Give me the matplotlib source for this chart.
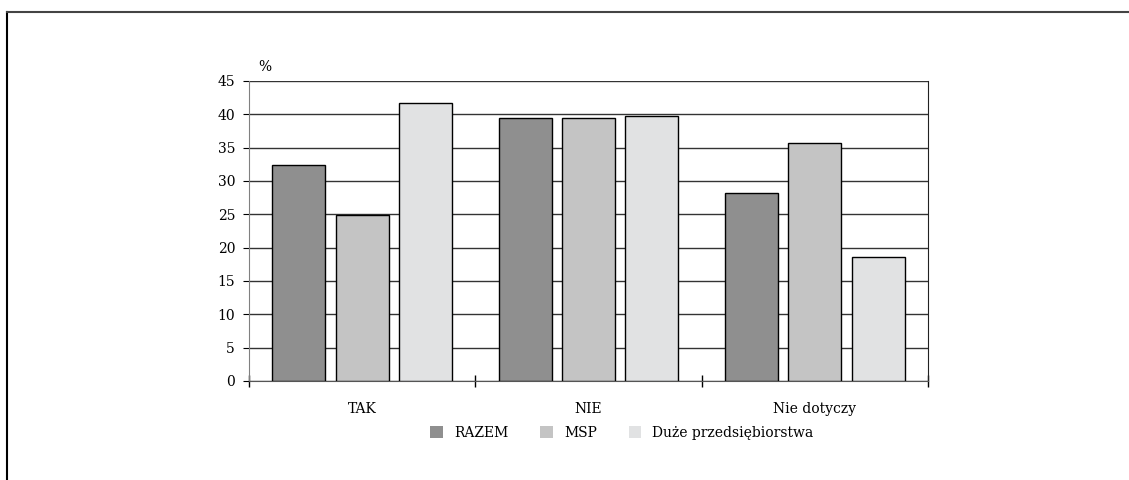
import matplotlib
matplotlib.use("Agg")
import matplotlib.pyplot as plt
from matplotlib.lines import Line2D
from matplotlib.patches import Patch
import numpy as np

categories = ["TAK", "NIE", "Nie dotyczy"]
series = ["RAZEM", "MSP", "Duże przedsiębiorstwa"]
razem = [32.4, 39.5, 28.2]
msp = [24.9, 39.4, 35.7]
duze = [41.7, 39.7, 18.6]
colors = ["#8f8f8f", "#c4c4c4", "#e1e2e3"]

plt.rcParams["font.family"] = ["DejaVu Serif"]

fig = plt.figure(figsize=(11.29, 4.8), dpi=100)
ax = fig.add_axes([249 / 1129, 1 - 381 / 480, 679 / 1129, 300 / 480])

x = np.arange(len(categories)) + 0.5
width = 0.234
step = 0.28
for i, (vals, name) in enumerate(zip([razem, msp, duze], series)):
    ax.bar(x + (i - 1) * step, vals, width, color=colors[i],
           edgecolor="black", linewidth=1, label=name, zorder=3)

ax.set_xlim(0, 3)
ax.set_ylim(0, 45)
ax.set_yticks(np.arange(0, 46, 5))
ax.yaxis.grid(True, color="#333333", linewidth=1, zorder=0)
ax.set_xticks([0, 1, 2, 3])
ax.set_xticklabels([])
ax.set_xticks(x, minor=True)
ax.set_xticklabels(categories, minor=True, fontsize=10)
ax.tick_params(axis="x", which="minor", length=0, pad=15)
ax.tick_params(axis="x", which="major", direction="inout", length=8, width=1)
ax.tick_params(axis="y", direction="out", length=4, labelsize=10, pad=6)

ax.spines["top"].set_visible(False)
ax.spines["left"].set_color("#808080")
ax.spines["bottom"].set_color("#555555")
ax.spines["right"].set_color("#222222")
ax.text(258 / 1129, 1 - 67 / 480, "%", transform=fig.transFigure,
        fontsize=10, ha="left", va="center")

handles = [Patch(facecolor=c, edgecolor="none") for c in colors]
fig.legend(handles, series, loc="center", bbox_to_anchor=(622 / 1129, 1 - 433 / 480),
           ncol=3, frameon=False, fontsize=10, handlelength=0.9, handleheight=0.9,
           columnspacing=2.3, handletextpad=0.8)

# thin frame around the figure, top and left only
fig.add_artist(Line2D([7 / 1129, 7 / 1129], [0, 1 - 12 / 480],
                      transform=fig.transFigure, color="black", linewidth=1.5))
fig.add_artist(Line2D([7 / 1129, 1], [1 - 12 / 480, 1 - 12 / 480],
                      transform=fig.transFigure, color="#444444", linewidth=1.5))

fig.savefig("out.png", dpi=100)
